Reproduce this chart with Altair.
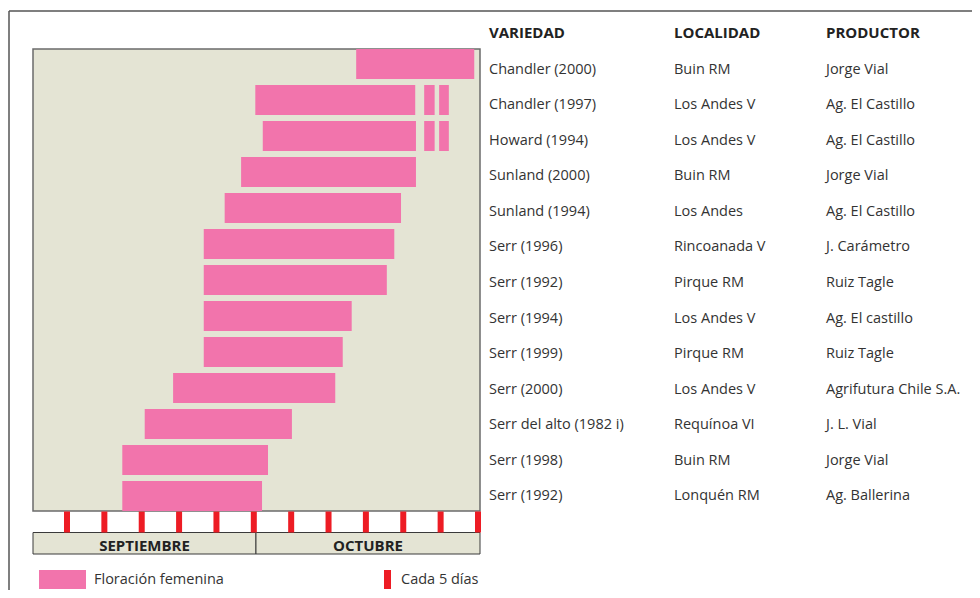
import altair as alt
import pandas as pd

# ---------------- data ----------------
variedad = ["Chandler (2000)", "Chandler (1997)", "Howard (1994)", "Sunland (2000)",
            "Sunland (1994)", "Serr (1996)", "Serr (1992)", "Serr (1994)", "Serr (1999)",
            "Serr (2000)", "Serr del alto (1982 i)", "Serr (1998)", "Serr (1992)"]
localidad = ["Buin RM", "Los Andes V", "Los Andes V", "Buin RM", "Los Andes",
             "Rincoanada V", "Pirque RM", "Los Andes V", "Pirque RM", "Los Andes V",
             "Requínoa VI", "Buin RM", "Lonquén RM"]
productor = ["Jorge Vial", "Ag. El Castillo", "Ag. El Castillo", "Jorge Vial",
             "Ag. El Castillo", "J. Carámetro", "Ruiz Tagle", "Ag. El castillo",
             "Ruiz Tagle", "Agrifutura Chile S.A.", "J. L. Vial", "Jorge Vial",
             "Ag. Ballerina"]
# flowering period, in days counted from the start of September
inicio = [43.7, 30.2, 31.2, 28.3, 26.1, 23.3, 23.3, 23.3, 23.3, 19.2, 15.4, 12.4, 12.4]
fin = [59.5, 51.6, 51.7, 51.7, 49.7, 48.8, 47.8, 43.1, 41.9, 40.9, 35.1, 31.9, 31.1]
# extra short flowering episodes (row index, start, end)
extra_fila = [1, 1, 2, 2]
extra_inicio = [52.8, 54.8, 52.8, 54.8]
extra_fin = [54.2, 56.1, 54.2, 56.1]
# tick every 5 days
marcas = [5, 10, 15, 20, 25, 30, 35, 40, 45, 50, 55, 60]
meses = ["SEPTIEMBRE", "OCTUBRE"]
mes_inicio = [0.45, 30.29]
mes_fin = [30.29, 60.27]
encabezados = ["VARIEDAD", "LOCALIDAD", "PRODUCTOR"]

# ---------------- styling ----------------
PINK = "#F274AC"
RED = "#ED1C24"
BEIGE = "#E4E4D4"
FONT = "Open Sans"
W, H = 447, 462

filas = list(range(len(variedad)))
bars_df = pd.DataFrame({
    "fila": filas + extra_fila,
    "inicio": inicio + extra_inicio,
    "fin": fin + extra_fin,
})
tabla_df = pd.DataFrame({"fila": filas, "variedad": variedad,
                         "localidad": localidad, "productor": productor})
marcas_df = pd.DataFrame({"dia": marcas})
meses_df = pd.DataFrame({"mes": meses, "inicio": mes_inicio, "fin": mes_fin})
meses_df["centro"] = (meses_df["inicio"] + meses_df["fin"]) / 2

xscale = alt.Scale(domain=[0.45, 60.27], nice=False, zero=False)

bars = alt.Chart(bars_df).mark_bar(color=PINK, cornerRadius=0).encode(
    x=alt.X("inicio:Q", scale=xscale, axis=None),
    x2="fin:Q",
    y=alt.Y("fila:O", sort=filas,
            scale=alt.Scale(type="band", paddingInner=1/6, paddingOuter=0), axis=None),
)

ticks = alt.Chart(marcas_df).mark_rule(color=RED, strokeWidth=6).encode(
    x=alt.X("dia:Q", scale=xscale, axis=None),
    y=alt.value(H + 0.5), y2=alt.value(H + 21.5),
)

month_rects = alt.Chart(meses_df).mark_rect(fill=BEIGE, stroke="#3a3a3a", strokeWidth=1).encode(
    x=alt.X("inicio:Q", scale=xscale, axis=None),
    x2="fin:Q",
    y=alt.value(H + 21.5), y2=alt.value(H + 43),
)
month_text = alt.Chart(meses_df).mark_text(font=FONT, fontSize=15, fontWeight="bold",
                                             color="#222222", baseline="middle").encode(
    x=alt.X("centro:Q", scale=xscale, axis=None),
    y=alt.value(H + 34.5),
    text="mes:N",
)

text_scale = alt.Scale(type="point", padding=0.5)
col_x = [456, 641, 793]
text_layers = []
for campo, xp in zip(["variedad", "localidad", "productor"], col_x):
    text_layers.append(
        alt.Chart(tabla_df).mark_text(font=FONT, fontSize=14.5, color="#333333",
                                      align="left", baseline="middle", dy=3).encode(
            x=alt.value(xp),
            y=alt.Y("fila:O", sort=filas, scale=text_scale, axis=None),
            text=alt.Text(f"{campo}:N"),
        )
    )

header_layers = []
for t, xp in zip(encabezados, col_x):
    header_layers.append(
        alt.Chart(pd.DataFrame({"t": [t]})).mark_text(
            font=FONT, fontSize=15, fontWeight="bold", color="#222222",
            align="left", baseline="middle").encode(
            x=alt.value(xp), y=alt.value(-16), text="t:N")
    )

# legend
legend_df = pd.DataFrame({"a": [0]})
leg_pink = alt.Chart(legend_df).mark_rect(color=PINK).encode(
    x=alt.value(6), x2=alt.value(53), y=alt.value(H + 59), y2=alt.value(H + 78))
leg_pink_t = alt.Chart(legend_df).mark_text(font=FONT, fontSize=14.5, color="#333333",
                                            align="left", baseline="middle").encode(
    x=alt.value(61), y=alt.value(H + 68.5), text=alt.value("Floración femenina"))
leg_red = alt.Chart(legend_df).mark_rect(color=RED).encode(
    x=alt.value(351), x2=alt.value(358), y=alt.value(H + 59), y2=alt.value(H + 78))
leg_red_t = alt.Chart(legend_df).mark_text(font=FONT, fontSize=14.5, color="#333333",
                                           align="left", baseline="middle").encode(
    x=alt.value(368), y=alt.value(H + 68.5), text=alt.value("Cada 5 días"))

# outer frame (top and left edges)
frame_top = alt.Chart(legend_df).mark_rule(color="#555555", strokeWidth=1.5).encode(
    x=alt.value(-24), x2=alt.value(960), y=alt.value(-38))
frame_left = alt.Chart(legend_df).mark_rule(color="#555555", strokeWidth=1.5).encode(
    x=alt.value(-24), y=alt.value(-38), y2=alt.value(H + 90))

chart = alt.layer(
    frame_top, frame_left, month_rects, ticks, bars, month_text,
    *header_layers, *text_layers, leg_pink, leg_pink_t, leg_red, leg_red_t,
).resolve_scale(y="independent").properties(
    width=W, height=H,
    padding={"left": 25, "top": 41, "right": 492, "bottom": 79},
    autosize=alt.AutoSizeParams(type="none"),
    background="white",
).configure_view(fill=BEIGE, stroke="#6b6b6b", strokeWidth=1.5)

chart.save("out.html", embed_options={"renderer": "svg", "actions": False})
